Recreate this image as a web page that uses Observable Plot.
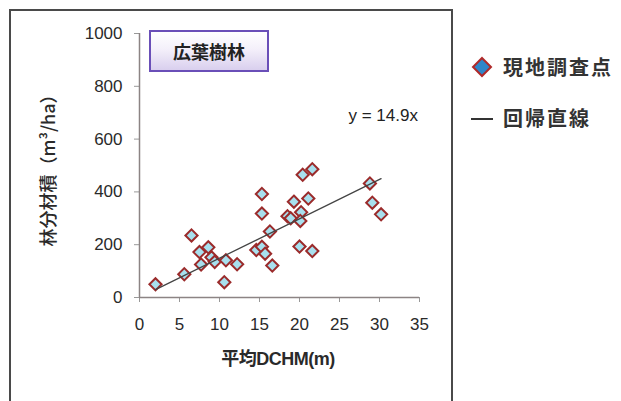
<!DOCTYPE html>
<html>
<head>
<meta charset="utf-8">
<script src="https://cdn.jsdelivr.net/npm/d3@7"></script>
<script src="https://cdn.jsdelivr.net/npm/@observablehq/plot@0.6"></script>
<style>
  html, body { margin: 0; padding: 0; background: #ffffff; }
  #wrap { position: relative; width: 621px; height: 401px; overflow: hidden; background: #fff; }
  #frame { position: absolute; left: 9px; top: 9px; width: 444px; height: 420px; border: 2px solid #4a4a4a; box-sizing: border-box; }
  #chart { position: absolute; left: 0; top: 0; }
  .ytitle { position: absolute; left: 47px; top: 166px; transform: translate(-50%, -50%) rotate(-90deg); white-space: nowrap;
    font-family: "Noto Sans CJK JP", "Liberation Sans", sans-serif; font-size: 18px; font-weight: 500; color: #2a2a2a; }
  .xtitle { position: absolute; left: 278px; top: 357px; transform: translate(-50%, -50%); white-space: nowrap;
    font-family: "Liberation Sans", "Noto Sans CJK JP", sans-serif; font-weight: bold; font-size: 18px; color: #2a2a2a; letter-spacing: -0.5px; }
  .box { position: absolute; left: 149px; top: 30px; width: 120px; height: 42px; box-sizing: border-box;
    border: 2px solid #6a4fb8; background: linear-gradient(#ffffff 0%, #f4f0fa 45%, #d9cfee 100%);
    display: flex; align-items: center; justify-content: center;
    font-family: "Noto Sans CJK JP", sans-serif; font-weight: bold; font-size: 18px; color: #222; }
  .leg { position: absolute; font-family: "Noto Sans CJK JP", sans-serif; font-weight: bold; font-size: 20px; color: #333; letter-spacing: 2px; white-space: nowrap; }
</style>
</head>
<body>
<div id="wrap">
  <div id="frame"></div>
  <div id="chart"></div>
  <div class="ytitle">林分材積（m³/ha）</div>
  <div class="xtitle">平均DCHM(m)</div>
  <div class="box">広葉樹林</div>
  <svg style="position:absolute;left:471px;top:56px" width="22" height="22"><path d="M11,2 L20,11 L11,20 L2,11 Z" fill="#2f86c9" stroke="#b02a2a" stroke-width="2"/></svg>
  <div class="leg" style="left:503px; top:52px;">現地調査点</div>
  <svg style="position:absolute;left:470px;top:110px" width="26" height="16"><line x1="1" y1="9" x2="23" y2="9" stroke="#333" stroke-width="2"/></svg>
  <div class="leg" style="left:503px; top:103px;">回帰直線</div>
</div>
<script>
// Surveyed plots: mean DCHM (m) and stand volume (m3/ha)
const dchm = [2.0, 5.6, 6.5, 7.5, 7.7, 8.6, 9.0, 9.4, 10.8, 10.6, 12.2, 14.6, 15.3, 15.7, 15.3, 15.3, 16.3, 16.6, 18.5, 18.9, 19.3, 20.2, 20.1, 20.0, 21.6, 20.4, 21.6, 21.1, 28.8, 29.1, 30.2];
const volume = [50, 88, 235, 172, 125, 190, 152, 135, 141, 58, 126, 180, 192, 166, 392, 318, 250, 121, 308, 300, 363, 323, 290, 193, 176, 465, 486, 375, 432, 359, 315];
// Regression line through origin
const slope = 14.9;
const fitX = [2.0, 30.2];
const xTicks = [0, 5, 10, 15, 20, 25, 30, 35];
const yTicks = [0, 200, 400, 600, 800, 1000];
const eqText = ["y = 14.9x"];

const points = dchm.map((d, i) => ({x: d, y: volume[i]}));
const fit = fitX.map(x => ({x, y: slope * x}));

const chart = Plot.plot({
  width: 460,
  height: 400,
  marginLeft: 139,
  marginRight: 41,
  marginTop: 33,
  marginBottom: 103,
  style: {background: "transparent", color: "#333"},
  x: {domain: [0, 35]},
  y: {domain: [0, 1000]},
  marks: [
    Plot.axisX({ticks: xTicks, tickFormat: d => String(d), tickSize: 5, tickPadding: 15, fontSize: 17, fontFamily: "Liberation Sans, Arial, sans-serif", stroke: "#999", fill: "#2a2a2a", label: null}),
    Plot.axisY({ticks: yTicks, tickFormat: d => String(d), tickSize: 5, tickPadding: 12, fontSize: 17, fontFamily: "Liberation Sans, Arial, sans-serif", stroke: "#999", fill: "#2a2a2a", label: null}),
    Plot.ruleY([0], {stroke: "#8c8484", strokeWidth: 1.5}),
    Plot.ruleX([0], {stroke: "#8c8484", strokeWidth: 1.5}),
    Plot.dot(points, {x: "x", y: "y", symbol: "diamond2", r: 5.5, fill: "#a8e0ee", stroke: "#9b2b2b", strokeWidth: 2}),
    Plot.line(fit, {x: "x", y: "y", stroke: "#444", strokeWidth: 1.3}),
    Plot.text(eqText, {x: 34.8, y: 690, text: d => d, textAnchor: "end", fontSize: 17, fontFamily: "Liberation Sans, Arial, sans-serif", fill: "#222"})
  ]
});
document.getElementById("chart").appendChild(chart);
</script>
</body>
</html>
